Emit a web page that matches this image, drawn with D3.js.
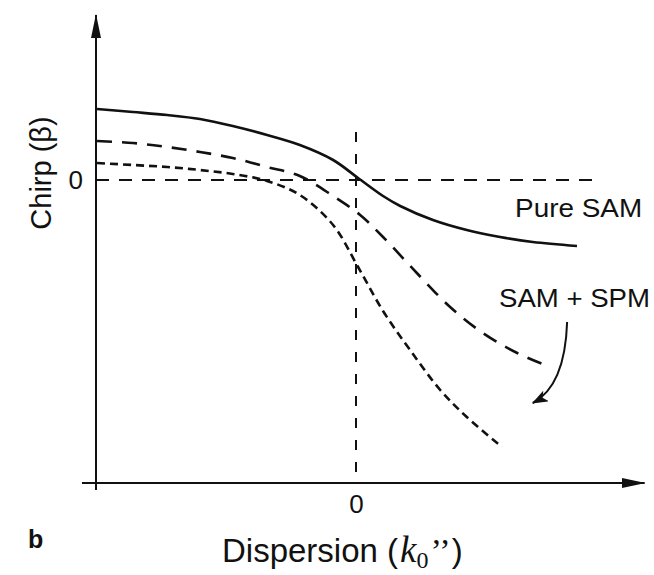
<!DOCTYPE html>
<html>
<head>
<meta charset="utf-8">
<script src="https://d3js.org/d3.v7.min.js"></script>
<style>
  body { margin: 0; background: #fff; }
  svg text { font-family: "Liberation Sans", Arial, sans-serif; fill: #111; }
</style>
</head>
<body>
<div id="graph"></div>
<script>

    // curves, x = dispersion, y = chirp (arbitrary units)
    var pureSamX = [-4.98, -4.29, -3.63, -3.0, -2.37, -1.71, -1.08, -0.44, 0.04, 0.52, 0.85, 1.48, 2.13, 2.77, 3.4, 4.25];
    var pureSamY = [3.55, 3.4, 3.25, 3.05, 2.7, 2.25, 1.75, 1.0, 0.1, -0.8, -1.3, -2.0, -2.5, -2.85, -3.1, -3.3];

    var spm1X = [-4.98, -4.29, -3.63, -3.0, -2.37, -1.71, -1.08, -0.44, 0.08, 0.52, 1.17, 1.81, 2.44, 3.1, 3.73];
    var spm1Y = [1.95, 1.85, 1.65, 1.4, 1.1, 0.65, 0.2, -0.8, -1.75, -2.85, -4.65, -6.35, -7.65, -8.65, -9.35];

    var spm2X = [-4.98, -4.29, -3.63, -3.0, -2.37, -1.71, -1.08, -0.44, 0.04, 0.52, 1.04, 1.62, 2.13, 2.81];
    var spm2Y = [0.85, 0.75, 0.65, 0.5, 0.3, -0.05, -0.75, -2.25, -4.35, -6.55, -8.5, -10.5, -11.85, -13.35];

    var xTicks = [0];
    var yTicks = [0];

    var width = 654, height = 575;

    var svg = d3.select("#graph")
        .append("svg")
        .attr("width", width)
        .attr("height", height);

    var x = d3.scaleLinear()
        .domain([-5, 5])
        .range([96, 616]);

    var y = d3.scaleLinear()
        .domain([-15.15, 8.5])
        .range([483, 10]);

    var defs = svg.append("defs");
    defs.append("marker")
        .attr("id", "head")
        .attr("viewBox", "0 0 24 10")
        .attr("refX", 23)
        .attr("refY", 5)
        .attr("markerWidth", 24)
        .attr("markerHeight", 10)
        .attr("markerUnits", "userSpaceOnUse")
        .attr("orient", "auto")
        .append("path")
        .attr("d", "M0,0 L24,5 L0,10 Z")
        .style("fill", "#111");

    defs.append("marker")
        .attr("id", "small")
        .attr("viewBox", "0 0 16 12")
        .attr("refX", 15)
        .attr("refY", 6)
        .attr("markerWidth", 16)
        .attr("markerHeight", 12)
        .attr("markerUnits", "userSpaceOnUse")
        .attr("orient", "auto")
        .append("path")
        .attr("d", "M0,0 L16,6 L0,12 L4,6 Z")
        .style("fill", "#111");

    // axes with arrows
    svg.append("line")
        .attr("x1", x(-5.27)).attr("y1", y(-15.15))
        .attr("x2", x(5.55)).attr("y2", y(-15.15))
        .style("stroke", "#111").style("stroke-width", 2)
        .attr("marker-end", "url(#head)");

    svg.append("line")
        .attr("x1", x(-5)).attr("y1", y(-15.5))
        .attr("x2", x(-5)).attr("y2", y(8.25))
        .style("stroke", "#111").style("stroke-width", 2)
        .attr("marker-end", "url(#head)");

    // tick labels through the axis generators, sized on the group
    var xAxis = svg.append("g")
        .attr("transform", "translate(0," + y(-15.15) + ")")
        .call(d3.axisBottom(x).tickValues(xTicks).tickSize(0).tickPadding(12));
    xAxis.select(".domain").remove();
    xAxis.attr("font-size", null).style("font-size", "26px");

    var yAxis = svg.append("g")
        .attr("transform", "translate(" + x(-5) + ",0)")
        .call(d3.axisLeft(y).tickValues(yTicks).tickSize(0).tickPadding(13));
    yAxis.select(".domain").remove();
    yAxis.attr("font-size", null).style("font-size", "26px");

    // reference lines at zero
    svg.append("line")
        .attr("x1", x(-5)).attr("y1", y(0))
        .attr("x2", x(4.63)).attr("y2", y(0))
        .style("stroke", "#111").style("stroke-width", 2)
        .style("stroke-dasharray", "13,10");

    svg.append("line")
        .attr("x1", x(0)).attr("y1", y(2.4))
        .attr("x2", x(0)).attr("y2", y(-15.15))
        .style("stroke", "#111").style("stroke-width", 2)
        .style("stroke-dasharray", "10,12");

    var line = d3.line()
        .x(function (d) { return x(d[0]); })
        .y(function (d) { return y(d[1]); })
        .curve(d3.curveCatmullRom.alpha(0.5));

    var curves = [
        { xs: pureSamX, ys: pureSamY, dash: null },
        { xs: spm1X, ys: spm1Y, dash: "15,10" },
        { xs: spm2X, ys: spm2Y, dash: "8,5" }
    ];

    svg.append("g")
        .selectAll("path")
        .data(curves)
        .enter()
        .append("path")
        .attr("d", function (d) { return line(d3.zip(d.xs, d.ys)); })
        .style("fill", "none")
        .style("stroke", "#111")
        .style("stroke-width", 2.6)
        .style("stroke-dasharray", function (d) { return d.dash; });

    // curved arrow under "SAM + SPM"
    var p0 = [4.06, -7.1], pc = [4.02, -10.3], p1 = [3.4, -11.15];
    svg.append("path")
        .attr("d", "M" + x(p0[0]) + "," + y(p0[1]) +
            " Q" + x(pc[0]) + "," + y(pc[1]) + " " + x(p1[0]) + "," + y(p1[1]))
        .style("fill", "none")
        .style("stroke", "#111")
        .style("stroke-width", 2)
        .attr("marker-end", "url(#small)");

    svg.append("text")
        .attr("x", x(3.06))
        .attr("y", y(-1.85))
        .attr("textLength", 127)
        .attr("lengthAdjust", "spacingAndGlyphs")
        .style("font-size", "25px")
        .text("Pure SAM");

    svg.append("text")
        .attr("x", x(2.75))
        .attr("y", y(-6.35))
        .attr("textLength", 151)
        .attr("lengthAdjust", "spacingAndGlyphs")
        .style("font-size", "25px")
        .text("SAM + SPM");

    // axis titles
    svg.append("text")
        .attr("transform", "translate(51,173) rotate(-90)")
        .attr("text-anchor", "middle")
        .style("font-size", "29px")
        .text("Chirp (\u03B2)");

    var xt = svg.append("text")
        .attr("x", 222)
        .attr("y", 562)
        .style("font-size", "33px");
    xt.append("tspan").text("Dispersion (");
    xt.append("tspan")
        .attr("dx", 2)
        .style("font-family", "Liberation Serif, Times New Roman, serif")
        .style("font-style", "italic")
        .style("font-size", "37px")
        .text("k");
    xt.append("tspan")
        .attr("dy", 6)
        .style("font-family", "Liberation Serif, Times New Roman, serif")
        .style("font-size", "24px")
        .text("0");
    xt.append("tspan")
        .attr("dy", -6)
        .attr("dx", 2)
        .style("font-family", "Liberation Serif, Times New Roman, serif")
        .style("font-size", "34px")
        .text("\u2019\u2019");
    xt.append("tspan").attr("dx", 1).text(")");

    svg.append("text")
        .attr("x", 28)
        .attr("y", 548)
        .style("font-size", "25px")
        .style("font-weight", "bold")
        .text("b");

</script>
</body>
</html>
